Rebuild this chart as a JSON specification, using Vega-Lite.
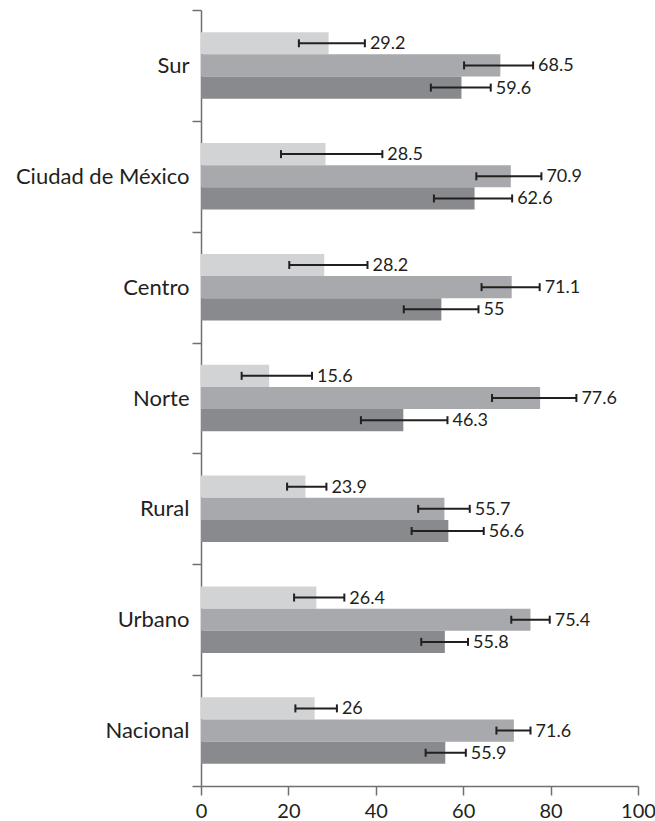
{
  "$schema": "https://vega.github.io/schema/vega-lite/v6.json",
  "width": 437,
  "height": 776,
  "autosize": "none",
  "padding": {"left": 201, "top": 10, "right": 17, "bottom": 35},
  "background": "white",
  "config": {"view": {"stroke": null}, "font": "Lato"},
  "data": {
    "values": [
      {"region": "Sur", "serie": "a", "value": 29.2, "lo": 22.4, "hi": 37.5},
      {"region": "Sur", "serie": "b", "value": 68.5, "lo": 60.2, "hi": 76.0},
      {"region": "Sur", "serie": "c", "value": 59.6, "lo": 52.6, "hi": 66.3},
      {"region": "Ciudad de México", "serie": "a", "value": 28.5, "lo": 18.3, "hi": 41.5},
      {"region": "Ciudad de México", "serie": "b", "value": 70.9, "lo": 63.0, "hi": 77.9},
      {"region": "Ciudad de México", "serie": "c", "value": 62.6, "lo": 53.3, "hi": 71.2},
      {"region": "Centro", "serie": "a", "value": 28.2, "lo": 20.2, "hi": 38.1},
      {"region": "Centro", "serie": "b", "value": 71.1, "lo": 64.2, "hi": 77.5},
      {"region": "Centro", "serie": "c", "value": 55, "lo": 46.4, "hi": 63.5},
      {"region": "Norte", "serie": "a", "value": 15.6, "lo": 9.3, "hi": 25.4},
      {"region": "Norte", "serie": "b", "value": 77.6, "lo": 66.6, "hi": 85.9},
      {"region": "Norte", "serie": "c", "value": 46.3, "lo": 36.6, "hi": 56.4},
      {"region": "Rural", "serie": "a", "value": 23.9, "lo": 19.7, "hi": 28.7},
      {"region": "Rural", "serie": "b", "value": 55.7, "lo": 49.7, "hi": 61.5},
      {"region": "Rural", "serie": "c", "value": 56.6, "lo": 48.2, "hi": 64.7},
      {"region": "Urbano", "serie": "a", "value": 26.4, "lo": 21.3, "hi": 32.8},
      {"region": "Urbano", "serie": "b", "value": 75.4, "lo": 71.0, "hi": 79.8},
      {"region": "Urbano", "serie": "c", "value": 55.8, "lo": 50.4, "hi": 61.1},
      {"region": "Nacional", "serie": "a", "value": 26, "lo": 21.6, "hi": 31.1},
      {"region": "Nacional", "serie": "b", "value": 71.6, "lo": 67.6, "hi": 75.4},
      {"region": "Nacional", "serie": "c", "value": 55.9, "lo": 51.4, "hi": 60.6}
    ]
  },
  "encoding": {
    "y": {
      "field": "region",
      "type": "nominal",
      "sort": ["Sur", "Ciudad de México", "Centro", "Norte", "Rural", "Urbano", "Nacional"],
      "scale": {"paddingInner": 0, "paddingOuter": 0},
      "axis": {
        "title": null,
        "tickBand": "extent",
        "tickSize": 9,
        "tickWidth": 1.5,
        "tickColor": "#707070",
        "domainColor": "#707070",
        "domainWidth": 1.5,
        "labelFontSize": 22,
        "labelFont": "Lato",
        "labelColor": "#231f20",
        "labelPadding": 3,
        "labelLimit": 400
      }
    },
    "yOffset": {
      "field": "serie",
      "type": "nominal",
      "sort": ["a", "b", "c"],
      "scale": {"paddingInner": 0, "paddingOuter": 1.18}
    }
  },
  "layer": [
    {
      "mark": {"type": "bar"},
      "encoding": {
        "x": {
          "field": "value",
          "type": "quantitative",
          "scale": {"domain": [0, 100], "nice": false},
          "axis": {
            "title": null,
            "values": [0, 20, 40, 60, 80, 100],
            "grid": false,
            "tickSize": 9,
            "tickWidth": 1.5,
            "tickColor": "#707070",
            "domainColor": "#707070",
            "domainWidth": 1.5,
            "labelFontSize": 20,
            "labelFont": "Lato",
            "labelColor": "#231f20",
            "labelPadding": 6,
            "labelFlush": false,
            "labelOverlap": false
          }
        },
        "color": {
          "field": "serie",
          "type": "nominal",
          "scale": {"domain": ["a", "b", "c"], "range": ["#d1d3d4", "#a7a9ac", "#898a8d"]},
          "legend": null
        }
      }
    },
    {
      "mark": {"type": "rule", "strokeWidth": 2, "color": "#231f20"},
      "encoding": {
        "x": {"field": "lo", "type": "quantitative"},
        "x2": {"field": "hi"}
      }
    },
    {
      "mark": {"type": "tick", "orient": "vertical", "size": 8, "thickness": 2, "color": "#231f20", "opacity": 1},
      "encoding": {"x": {"field": "lo", "type": "quantitative"}}
    },
    {
      "mark": {"type": "tick", "orient": "vertical", "size": 8, "thickness": 2, "color": "#231f20", "opacity": 1},
      "encoding": {"x": {"field": "hi", "type": "quantitative"}}
    },
    {
      "mark": {"type": "text", "align": "left", "baseline": "middle", "dx": 5, "dy": 1, "fontSize": 18, "font": "Lato", "color": "#231f20"},
      "encoding": {
        "x": {"field": "hi", "type": "quantitative"},
        "text": {"field": "value", "type": "nominal"}
      }
    }
  ]
}
